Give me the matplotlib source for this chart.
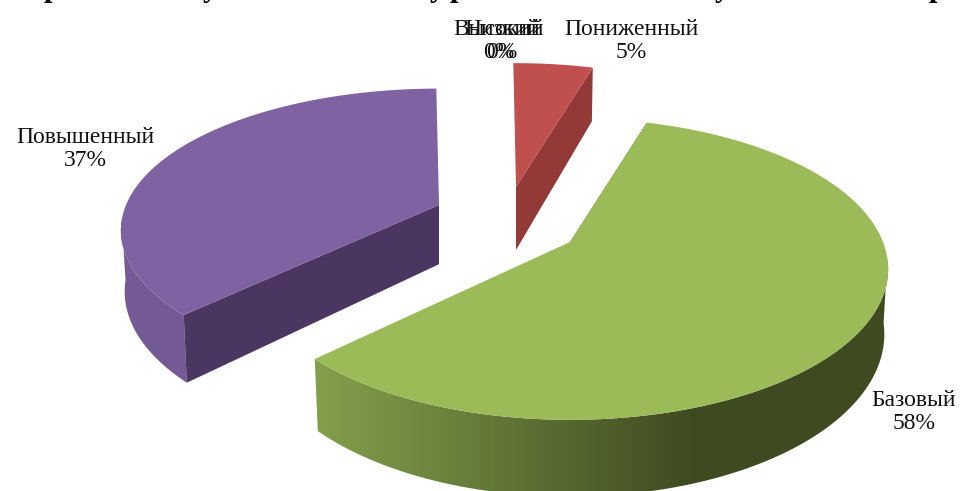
import numpy as np
import matplotlib
matplotlib.use('Agg')
import matplotlib.pyplot as plt
from matplotlib.colors import to_rgb
from matplotlib.patches import Polygon

plt.rcParams['font.family'] = ['Liberation Serif', 'DejaVu Serif']

# order runs clockwise from the first slice angle
levels = ['Базовый', 'Повышенный', 'Высокий', 'Низкий', 'Пониженный']
shares = [58, 37.2, 0, 0, 4.8]
percent_labels = ['58%', '37%', '0%', '0%', '5%']

top_colors = ['#9bbb59', '#7f62a1', '#4bacc6', '#f79646', '#c0504d']
cut_colors = ['#5d7033', '#4a3660', '#2c6a7c', '#a35f24', '#933a38']
side_left = ['#83a04c', '#735a94', '#4bacc6', '#f79646', '#a84543']
side_right = ['#3f4a20', '#6d5590', '#2c6a7c', '#a35f24', '#933a38']

# pixel position of each slice apex (exploded pie)
apex_x = [570, 439, 480, 480, 516]
apex_y = [242, 205, 150, 150, 187]
tilt = [1, 0.94, 1, 1, 1]

label_x = [914, 85, 499, 502, 631]
label_y = [412, 149, 41, 41, 41]

# the title is cut off by the top edge, only these descenders are left
title_chars = ['р', 'у', 'у', 'р', 'у', 'р']
title_x = [52, 210, 437, 458, 722, 937]

first_angle = 16.7
a, b, k = 313, 146, 0.179
depth = 63


def project(x0, y0, ang, s=1.0, drop=0.0):
    # ang in degrees clockwise from the far side of the pie
    t = np.radians(ang)
    x, y = np.sin(t), np.cos(t)
    w = 1 + k * y
    return x0 + a * x / w * (1 - 0.012 * drop), y0 - s * b * y / w + s * drop * depth / w


fig = plt.figure(figsize=(9.6, 4.91), dpi=100)
ax = fig.add_axes([0, 0, 1, 1])
ax.axis('off')

ang = first_angle
for i in range(len(levels)):
    sweep = shares[i] / 100 * 360
    if sweep == 0:
        continue
    x0, y0, s = apex_x[i], apex_y[i], tilt[i]
    angs = np.linspace(ang, ang + sweep, 200)

    # outer wall with a left to right gradient, the far side is hidden anyway
    near = angs[np.cos(np.radians(angs)) <= -0.1]
    if len(near) > 1:
        xt, yt = project(x0, y0, near, s)
        xd, yd = project(x0, y0, near, s, drop=1)
        wall = Polygon(np.r_[np.c_[xt, yt], np.c_[xd, yd][::-1]], closed=True,
                       transform=ax.transData, fc='none', ec='none')
        ax.add_patch(wall)
        x_left, x_right = x0 - 255, x0 + 125
        ramp = np.linspace(0, 1, 256)
        c1, c2 = np.array(to_rgb(side_left[i])), np.array(to_rgb(side_right[i]))
        img = (c1 + (c2 - c1) * ramp[:, None])[None, :, :]
        im = ax.imshow(img, extent=[x_left, x_right, 491, 0], aspect='auto', interpolation='bilinear')
        im.set_clip_path(wall)
        # outside the gradient the wall stays at its end colours
        pad = ax.imshow(np.array([[c2]]), extent=[x_right, 960, 491, 0], aspect='auto')
        pad.set_clip_path(wall)
        pad = ax.imshow(np.array([[c1]]), extent=[0, x_left, 491, 0], aspect='auto')
        pad.set_clip_path(wall)

    # cut wall from the apex out to the visible end of the slice
    end = ang + sweep if i == len(levels) - 1 else ang
    xe, ye = project(x0, y0, end, s)
    xf, yf = project(x0, y0, end, s, drop=1)
    ax.add_patch(Polygon([(x0, y0), (xe, ye), (xf, yf), (x0, y0 + s * depth)],
                         closed=True, fc=cut_colors[i], ec='none'))

    # top face
    xs, ys = project(x0, y0, angs, s)
    ax.add_patch(Polygon(np.r_[[[x0, y0]], np.c_[xs, ys]], closed=True,
                         fc=top_colors[i], ec='none', zorder=3))
    ang += sweep

for i in range(len(levels)):
    ax.text(label_x[i], label_y[i], levels[i] + '\n' + percent_labels[i], ha='center', va='center',
            fontsize=17, color='#111111', linespacing=1.15, zorder=4)

for ch, x in zip(title_chars, title_x):
    ax.text(x, -4.5, ch, ha='center', va='baseline', fontsize=22, fontweight='bold',
            color='black', clip_on=False)

ax.set_xlim(0, 960)
ax.set_ylim(491, 0)

fig.savefig('out.png', dpi=100)
